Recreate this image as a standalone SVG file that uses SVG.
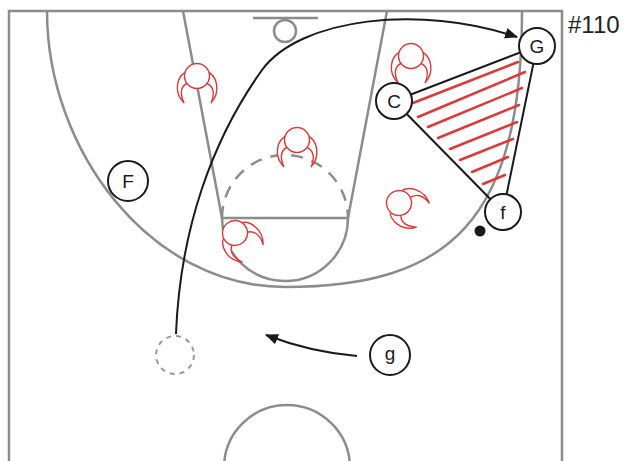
<svg xmlns="http://www.w3.org/2000/svg" width="628" height="461" viewBox="0 0 628 461">
<defs>
<style>
.court{fill:none;stroke:#8c8c8c;stroke-width:2.5}
.node circle{fill:#fff;stroke:#1a1a1a;stroke-width:2}
.node text{font-family:"Liberation Sans",Arial,sans-serif;font-size:19px;fill:#1a1a1a;text-anchor:middle}
.conn{fill:none;stroke:#1a1a1a;stroke-width:2}
.hatch{stroke:#d93a3a;stroke-width:2.5;stroke-linecap:round}
</style>
<marker id="ah" viewBox="0 0 12 10" refX="11" refY="5" markerWidth="13" markerHeight="11" markerUnits="userSpaceOnUse" orient="auto">
<path d="M0,0 L12,5 L0,10 Z" fill="#1a1a1a"/>
</marker>
<g id="defender" fill="#fff" stroke="#d93a3a" stroke-width="1.4">
<path d="M-11,-4 C-20,0 -24,16 -13,27 C-17,18 -17,10 -9,7 Z"/>
<path d="M11,-4 C20,0 24,16 14,27 C18,18 17,10 9,7 Z"/>
<circle cx="0" cy="0" r="12.5"/>
</g>
</defs>
<rect width="628" height="461" fill="#fff"/>
<g id="court">
<path class="court" d="M9,461 V11 H562 V461"/>
<path class="court" d="M47,11 C47,150 150,287 285,287 C450,287 522,220 522,11"/>
<path class="court" d="M183,11 L222,218 H348 L387,11"/>
<path class="court" d="M222,218 A63,63 0 0 0 348,218"/>
<path class="court" d="M222,218 A63,63 0 0 1 348,218" stroke-dasharray="12,9"/>
<line class="court" x1="253" y1="18" x2="318" y2="18"/>
<circle class="court" cx="285" cy="31" r="11"/>
<circle class="court" cx="287" cy="468" r="63"/>
</g>
<g id="defenders">
<use href="#defender" transform="translate(197,76)"/>
<use href="#defender" transform="translate(411,56)"/>
<use href="#defender" transform="translate(297,140)"/>
<use href="#defender" transform="translate(399,203) rotate(-62)"/>
<use href="#defender" transform="translate(235,233) rotate(-40)"/>
</g>
<g id="hatching">
<line class="hatch" x1="413" y1="103" x2="518" y2="62"/>
<line class="hatch" x1="418" y1="117" x2="525" y2="72"/>
<line class="hatch" x1="428" y1="127" x2="522" y2="88"/>
<line class="hatch" x1="438" y1="138" x2="519" y2="105"/>
<line class="hatch" x1="450" y1="149" x2="517" y2="122"/>
<line class="hatch" x1="460" y1="160" x2="513" y2="139"/>
<line class="hatch" x1="472" y1="172" x2="508" y2="157"/>
<line class="hatch" x1="483" y1="184" x2="505" y2="175"/>
</g>
<g id="connectors">
<line class="conn" x1="394" y1="101" x2="537" y2="46"/>
<line class="conn" x1="537" y1="46" x2="503" y2="212"/>
<line class="conn" x1="394" y1="101" x2="503" y2="212"/>
<path class="conn" d="M176,334 C180,230 212,140 262,70 C300,18 420,4 517,37" marker-end="url(#ah)"/>
<path class="conn" d="M357,356 Q310,352 266,335" marker-end="url(#ah)"/>
</g>
<circle id="ball" cx="480" cy="231" r="5.5" fill="#1a1a1a"/>
<g id="ghost"><circle cx="175" cy="355" r="19" fill="none" stroke="#999" stroke-width="2" stroke-dasharray="5,5"/></g>
<g id="node-G" class="node"><circle cx="537" cy="46" r="18"/><text x="537" y="53">G</text></g>
<g id="node-C" class="node"><circle cx="394" cy="101" r="18"/><text x="394" y="108">C</text></g>
<g id="node-f" class="node"><circle cx="503" cy="212" r="18"/><text x="503" y="219">f</text></g>
<g id="node-F" class="node"><circle cx="128" cy="181" r="20"/><text x="128" y="188">F</text></g>
<g id="node-g" class="node"><circle cx="390" cy="355" r="20"/><text x="390" y="360">g</text></g>
<text x="568" y="33" font-family="Liberation Sans,Arial,sans-serif" font-size="24" fill="#222">#110</text>
</svg>
